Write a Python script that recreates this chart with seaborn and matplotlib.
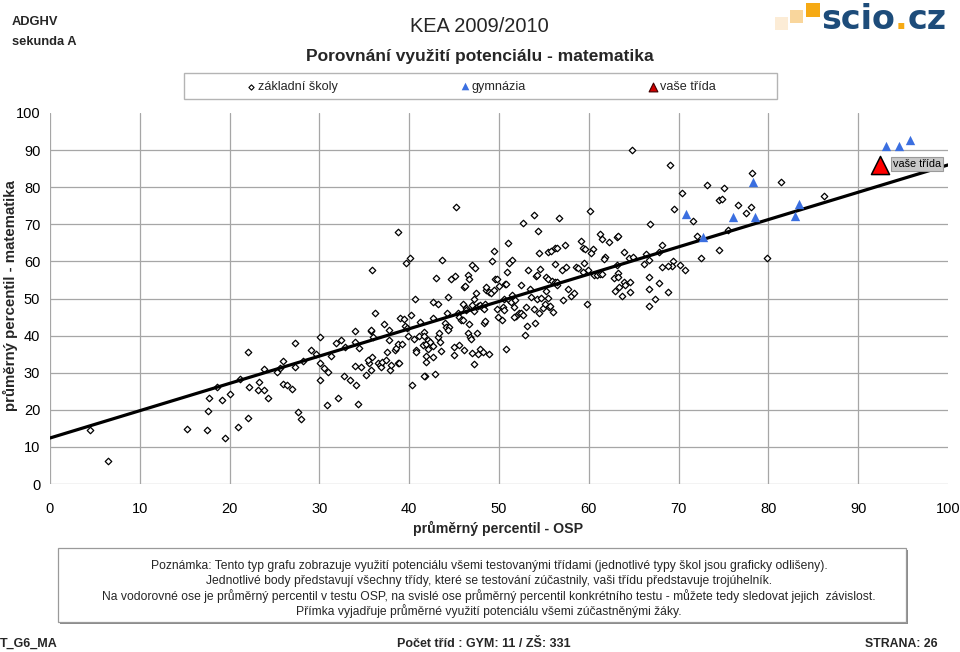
import matplotlib
matplotlib.use("Agg")
import matplotlib.pyplot as plt
import seaborn as sns
from matplotlib.patches import Rectangle

# ---------------- data ----------------
zs_x = [4.5, 6.5, 15.3, 17.5, 17.6, 17.7, 18.6, 19.5, 19.2, 20.0, 20.9, 22.1, 21.2, 22.0, 22.2, 23.2, 23.3, 23.8,
        23.8, 24.3, 25.3, 25.6, 26.0, 26.0, 26.4, 26.9, 27.3, 27.3, 27.6, 28.0,
        28.2, 29.1, 29.6, 30.1, 30.1, 30.5, 31.0, 30.1, 31.3, 31.9, 32.4, 32.7, 32.9, 30.9, 32.1, 33.4, 34.0, 34.0,
        34.1, 34.3, 34.4, 34.0, 34.6, 35.2, 35.5, 35.4, 35.7, 35.9, 35.8, 35.8, 36.0, 35.9, 36.2, 36.5, 36.7, 36.9,
        37.0, 37.2, 37.4, 37.5, 37.7, 37.8, 37.9, 38.0, 38.4, 38.5, 38.7, 38.8, 38.9, 39.2, 39.0, 39.4, 39.5, 39.7,
        38.8, 39.6, 40.1, 40.6, 40.2, 39.9, 40.3, 40.5, 40.8, 40.8, 41.1, 41.2, 41.5, 41.6, 41.7, 41.8, 41.9, 41.9,
        42.1, 42.1,
        45.2, 43.6, 43.0, 44.6, 45.1, 46.5, 46.7, 47.0, 47.3, 46.1, 46.2, 49.4, 49.2, 51.0, 51.4, 51.1, 50.9, 49.6,
        49.8, 50.0, 50.7, 50.8, 52.4, 52.7, 53.9, 54.3, 53.2, 54.5, 54.6, 54.1, 54.2, 55.2, 55.5, 55.8, 56.2, 56.5,
        56.7, 56.2, 55.5, 55.9, 56.2, 44.3, 42.7, 43.2, 42.6, 44.2, 44.0, 44.1, 44.4, 44.3, 45.4, 45.5, 45.8, 46.0,
        46.0, 46.3, 46.3, 46.7, 47.0, 47.2, 47.4, 47.2, 47.7, 47.9, 48.1, 48.3, 48.4, 48.5, 48.6, 48.3, 48.4, 48.9,
        49.1, 49.4, 49.8, 49.9, 50.3, 50.4, 50.6, 50.6, 51.1, 51.5, 51.3, 51.8, 51.7, 51.9, 52.2, 52.4, 52.7, 53.0,
        53.1, 53.5, 53.6, 53.9, 54.0, 54.2, 54.4, 54.7, 54.9, 55.1, 55.2, 55.5, 55.6, 56.0, 52.9, 50.8, 41.9, 42.1,
        42.3, 42.6, 42.7, 43.2, 43.3, 43.4, 43.5, 41.7, 42.9, 45.0, 45.5, 45.0, 46.1, 46.6, 46.8, 46.9, 47.5, 47.0,
        47.7, 47.9, 48.2, 48.9, 47.2, 51.7,
        64.8, 69.0, 73.2, 70.4, 69.5, 71.6, 72.0, 60.1, 66.8, 61.3, 61.5, 59.1, 62.3, 63.1, 63.3, 59.3, 59.6, 60.5,
        60.3, 57.3, 63.9, 61.8, 61.7, 64.5, 64.9, 66.4, 66.7, 67.8, 68.1, 74.5, 74.5, 72.5, 69.4, 69.3, 68.8, 68.2,
        70.2, 70.7, 66.1, 57.5, 57.0, 58.6, 58.8, 59.5, 59.9, 59.3, 60.6, 60.9, 61.2, 61.5, 63.1, 63.3, 62.8, 63.2,
        63.9, 64.0, 64.6, 63.4, 62.9, 64.6, 63.7, 66.7, 67.8, 66.7, 68.8, 67.4, 66.7, 59.8, 55.7, 58.0, 58.4, 57.7,
        57.1, 56.5, 56.5,
        78.2, 81.4, 75.1, 74.8, 76.6, 78.1, 77.5, 86.2, 75.5, 79.8]
zs_y = [14.6, 6.3, 14.9, 14.6, 19.8, 23.3, 26.1, 12.3, 22.6, 24.3, 15.4, 17.7, 28.2, 35.6, 26.1, 25.4, 27.5, 25.4,
        31.0, 23.3, 30.1, 31.3, 33.2, 27.0, 26.7, 25.6, 38.1, 31.6, 19.5, 17.4,
        33.2, 36.0, 35.1, 39.6, 32.5, 31.3, 30.1, 27.9, 34.4, 37.9, 38.7, 29.0, 37.0, 21.4, 23.1, 27.9, 41.2, 38.4,
        26.6, 21.5, 36.7, 31.7, 31.6, 29.5, 32.7, 33.4, 30.7, 34.2, 41.2, 41.5, 39.6, 57.6, 46.1, 32.5, 32.1, 31.5,
        33.0, 43.0, 33.4, 35.6, 38.7, 41.4, 30.7, 32.2, 36.0, 36.7, 37.8, 32.5, 32.6, 37.7, 44.8, 44.6, 42.5, 42.1,
        67.8, 59.5, 61.0, 49.9, 45.6, 40.0, 26.6, 39.0, 36.2, 35.5, 40.0, 43.7, 37.5, 40.9, 40.0, 29.1, 32.9, 34.5,
        38.5, 36.4,
        74.7, 60.3, 55.5, 55.2, 56.1, 56.3, 55.3, 58.9, 58.2, 53.2, 53.3, 62.9, 60.0, 65.0, 60.4, 59.5, 57.2, 55.2,
        55.2, 53.4, 53.9, 53.8, 53.6, 70.3, 72.6, 68.1, 57.7, 62.2, 58.0, 56.1, 56.2, 55.7, 62.5, 62.9, 63.6, 63.7,
        71.6, 59.2, 55.2, 54.7, 54.4, 50.4, 49.0, 48.4, 44.8, 46.1, 43.4, 42.3, 42.4, 41.6, 46.1, 45.1, 44.3, 44.2,
        48.4, 47.4, 46.8, 43.1, 48.2, 49.8, 51.5, 46.6, 48.1, 48.3, 47.7, 47.3, 48.4, 52.2, 53.0, 43.5, 44.0, 51.7,
        51.4, 52.2, 47.2, 45.1, 44.1, 47.8, 46.9, 49.9, 49.6, 51.0, 49.0, 49.6, 47.8, 45.3, 46.0, 46.2, 45.6, 47.6,
        42.6, 52.6, 50.5, 47.2, 43.5, 49.8, 46.2, 50.1, 47.5, 48.4, 52.1, 50.1, 47.8, 46.4, 40.1, 36.5, 37.7, 38.8,
        38.2, 37.1, 34.3, 39.5, 40.8, 38.3, 35.8, 29.2, 29.6, 37.0, 37.4, 34.9, 36.1, 40.8, 39.5, 39.1, 40.6, 35.2,
        35.0, 36.3, 35.5, 35.0, 32.4, 44.9,
        89.9, 85.9, 80.7, 78.4, 74.2, 70.8, 66.9, 73.6, 70.0, 67.4, 66.0, 65.6, 65.3, 66.5, 66.8, 63.7, 63.3, 63.3,
        62.2, 64.4, 62.6, 61.2, 60.6, 60.9, 61.3, 62.0, 60.4, 62.5, 64.3, 76.5, 63.1, 60.8, 60.0, 58.8, 58.8, 58.5,
        58.9, 57.7, 59.4, 58.6, 57.6, 58.4, 58.3, 59.7, 57.6, 57.2, 56.4, 56.4, 56.6, 56.6, 59.1, 56.8, 55.6, 55.8,
        54.5, 53.6, 54.5, 53.1, 52.1, 51.8, 50.7, 55.7, 54.1, 52.6, 51.8, 49.9, 48.0, 48.5, 48.0, 50.6, 51.5, 52.5,
        49.6, 53.6, 54.5,
        83.7, 81.4, 79.8, 76.7, 75.3, 74.6, 73.0, 77.6, 68.4, 60.9]

gym_x = [70.8, 72.7, 76.1, 78.3, 78.5, 83.4, 83.0, 93.1, 94.5, 95.8]
gym_y = [72.8, 66.6, 72.0, 81.4, 72.0, 75.5, 72.2, 91.1, 91.1, 92.7]

own_x = [92.4]
own_y = [86.0]
own_label = "vaše třída"

line_x = [0, 100]
line_y = [12.4, 86.0]

axis_ticks = [0, 10, 20, 30, 40, 50, 60, 70, 80, 90, 100]

# ---------------- style ----------------
sns.set_style("white")
plt.rcParams["font.family"] = ["Liberation Sans", "DejaVu Sans"]

W, H = 960, 652
fig = plt.figure(figsize=(W / 100, H / 100), dpi=100)

# overlay axes in pixel coordinates for page decoration
pax = fig.add_axes([0, 0, 1, 1])
pax.set_xlim(0, W)
pax.set_ylim(H, 0)
pax.axis("off")
pax.patch.set_alpha(0)

# main plot axes
ax = fig.add_axes([50 / W, 1 - 484 / H, (948 - 50) / W, (484 - 113) / H])
ax.set_xlim(0, 100)
ax.set_ylim(0, 100)
for s in ax.spines.values():
    s.set_visible(False)
grid_c = "#a6a6a6"
for v in axis_ticks[:-1]:
    ax.axvline(v, color=grid_c, lw=0.9, zorder=0)
    ax.axhline(v, color=grid_c, lw=0.9, zorder=0)

sns.scatterplot(x=zs_x, y=zs_y, marker="D", s=11, color="white", edgecolor="black",
                linewidth=0.9, ax=ax, zorder=3, legend=False)
sns.lineplot(x=line_x, y=line_y, color="black", lw=2.3, ax=ax, zorder=4, legend=False)
sns.scatterplot(x=gym_x, y=gym_y, marker="^", s=45, color="#3b6fe0", linewidth=0,
                ax=ax, zorder=5, legend=False)
sns.scatterplot(x=own_x, y=own_y, marker="^", s=170, color="#ff0000", edgecolor="black",
                linewidth=1.1, ax=ax, zorder=6, legend=False, clip_on=False)
ax.annotate(own_label, xy=(own_x[0], own_y[0]), xytext=(9.5, 0.5), textcoords="offset points",
            va="center", ha="left", fontsize=7.8, color="black", zorder=7,
            bbox=dict(boxstyle="square,pad=0.18", fc="#c8c8c8", ec="#9a9a9a", lw=0.8))

ax.set_xticks(axis_ticks)
ax.set_yticks(axis_ticks)
ax.set_xticklabels([str(t) for t in axis_ticks])
ax.set_yticklabels([str(t) for t in axis_ticks])
ax.tick_params(axis="both", length=0, labelsize=10.5, colors="black")
ax.tick_params(axis="x", pad=13)
ax.tick_params(axis="y", pad=7)
ax.set_xlabel("")
ax.set_ylabel("")

# axis titles
pax.text(498, 528, "průměrný percentil - OSP", ha="center", va="center",
         fontsize=10.2, fontweight="bold")
pax.text(10, 296, "průměrný percentil - matematika", ha="center", va="center",
         rotation=90, fontsize=10.8, fontweight="bold")

# header
pax.text(12, 22, "ADGHV", ha="left", va="center", fontsize=9.3, fontweight="bold")
pax.text(12, 42, "sekunda A", ha="left", va="center", fontsize=9.3, fontweight="bold")
pax.text(479, 27, "KEA 2009/2010", ha="center", va="center", fontsize=14.4)
pax.text(480, 57, "Porovnání využití potenciálu - matematika", ha="center", va="center",
         fontsize=12.5, fontweight="bold")

# legend box
pax.add_patch(Rectangle((184, 73), 593, 26, fc="white", ec="#b4b4b4", lw=1.0))
pax.scatter([251], [87], marker="D", s=7, c="white", edgecolors="black", linewidths=0.8)
pax.text(258, 87, "základní školy", ha="left", va="center", fontsize=9.1)
pax.scatter([465], [86], marker="^", s=30, c="#3b6fe0", linewidths=0)
pax.text(471, 87, "gymnázia", ha="left", va="center", fontsize=9.1)
pax.scatter([653], [87], marker="^", s=40, c="#d00000", edgecolors="#400000", linewidths=0.8)
pax.text(660, 87, "vaše třída", ha="left", va="center", fontsize=9.1)

# logo
pax.add_patch(Rectangle((775, 17), 13, 13, fc="#fcecd6", ec="none"))
pax.add_patch(Rectangle((790, 10), 13, 13, fc="#f9d69c", ec="none"))
pax.add_patch(Rectangle((806, 3), 14, 14, fc="#f6aa14", ec="none"))
logo_kw = dict(fontsize=24, fontweight="bold", family="DejaVu Sans", va="baseline", ha="left")
t1 = pax.text(821, 29, "scio", color="#1d4c7a", **logo_kw)
fig.canvas.draw()
inv = pax.transData.inverted()
x1 = inv.transform((t1.get_window_extent().x1, 0))[0]
t2 = pax.text(x1, 29, ".", color="#f6aa14", **logo_kw)
fig.canvas.draw()
x2 = inv.transform((t2.get_window_extent().x1, 0))[0]
pax.text(x2, 29, "cz", color="#1d4c7a", **logo_kw)

# note box
pax.add_patch(Rectangle((60, 550), 848, 74, fc="#8c8c8c", ec="none"))
pax.add_patch(Rectangle((58, 548), 848, 74, fc="white", ec="#9a9a9a", lw=0.9))
note_lines = [
    "Poznámka: Tento typ grafu zobrazuje využití potenciálu všemi testovanými třídami (jednotlivé typy škol jsou graficky odlišeny).",
    "Jednotlivé body představují všechny třídy, které se testování zúčastnily, vaši třídu představuje trojúhelník.",
    "Na vodorovné ose je průměrný percentil v testu OSP, na svislé ose průměrný percentil konkrétního testu - můžete tedy sledovat jejich  závislost.",
    "Přímka vyjadřuje průměrné využití potenciálu všemi zúčastněnými žáky.",
]
for i, ln in enumerate(note_lines):
    pax.text(489, 565.5 + i * 15.3, ln, ha="center", va="center", fontsize=8.7)

# footer
pax.text(0, 644, "T_G6_MA", ha="left", va="center", fontsize=9, fontweight="bold")
pax.text(484, 644, "Počet tříd : GYM: 11 / ZŠ: 331", ha="center", va="center",
         fontsize=9, fontweight="bold")
pax.text(938, 644, "STRANA: 26", ha="right", va="center", fontsize=8.8, fontweight="bold")

fig.savefig("out.png", dpi=100)
